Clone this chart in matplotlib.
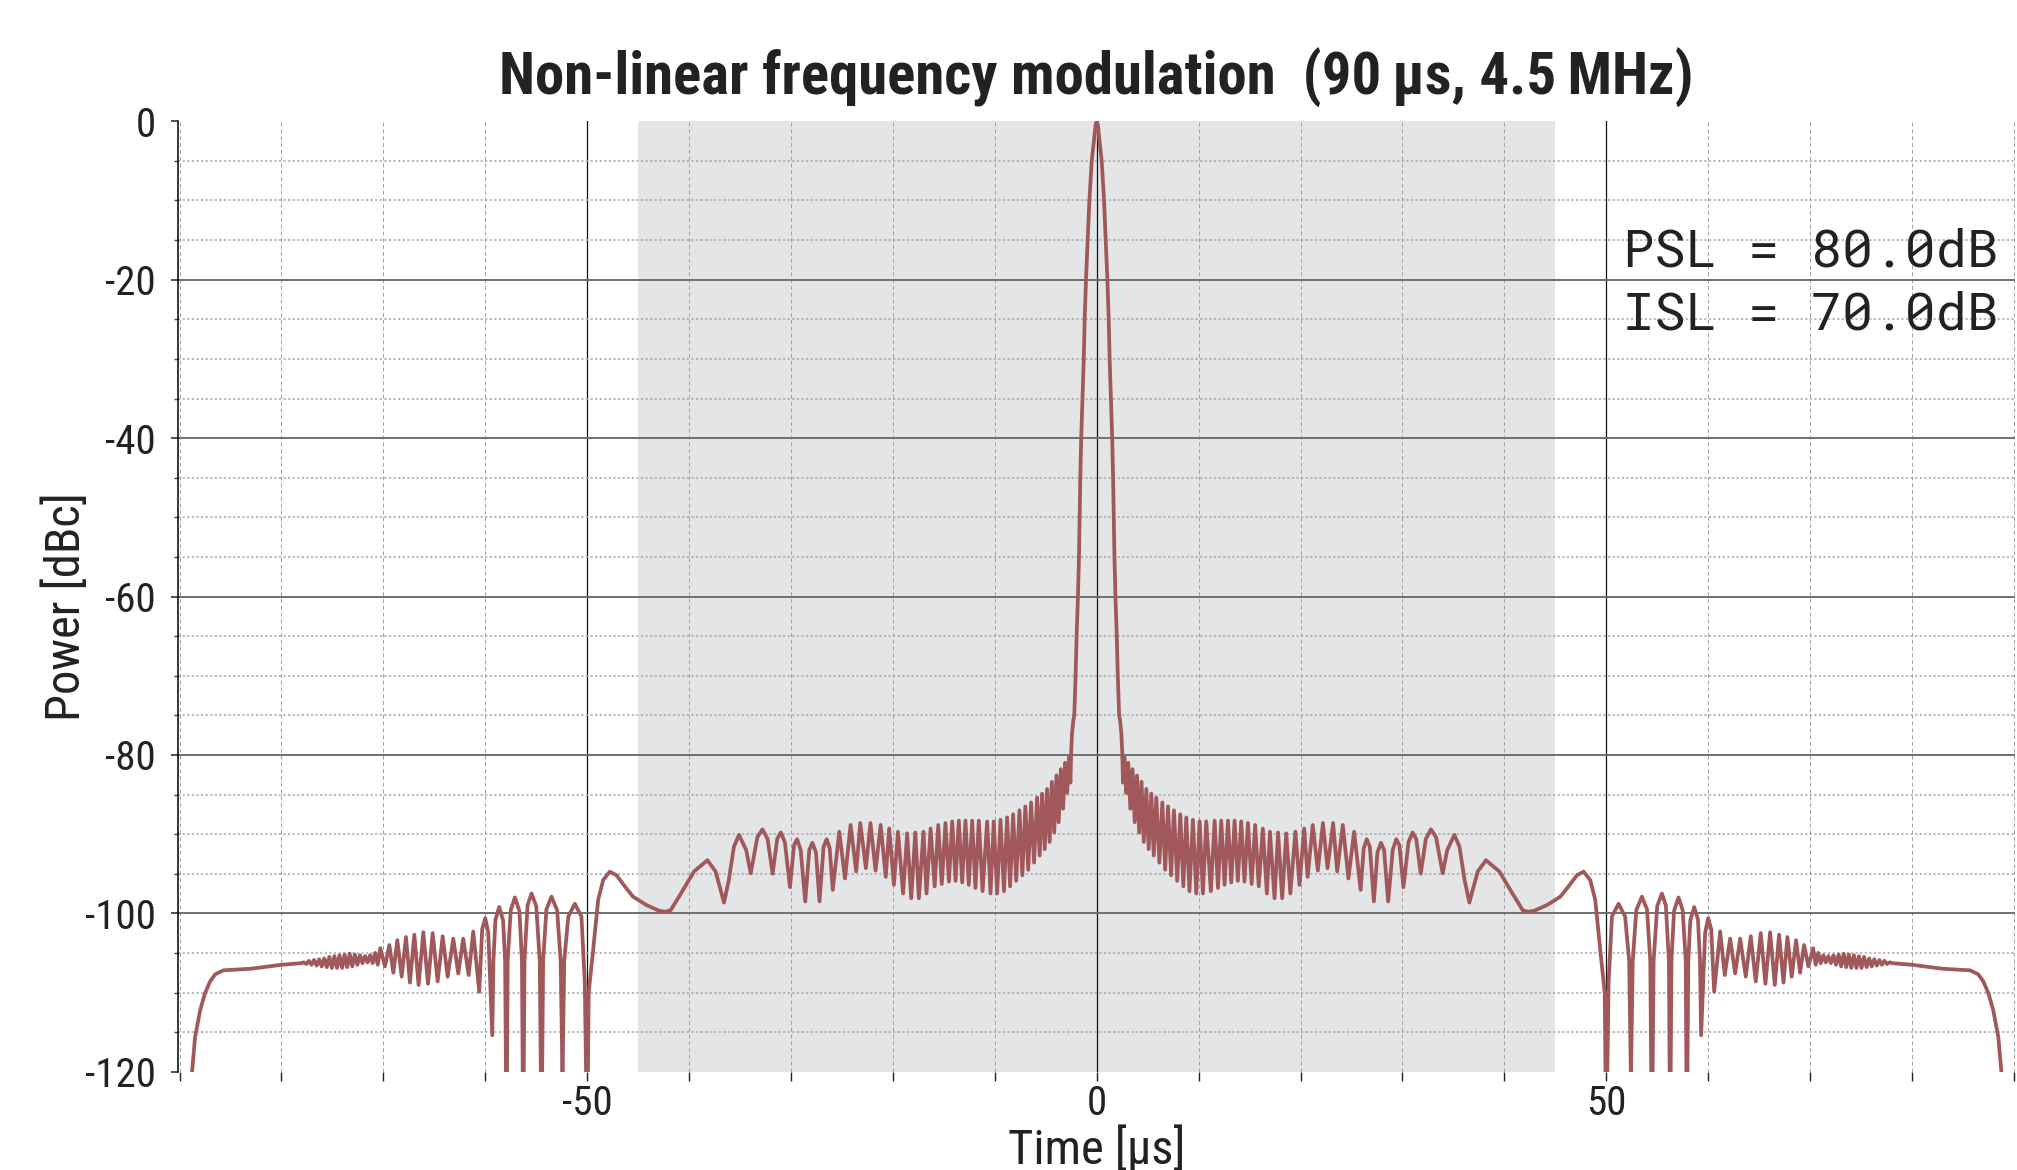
import matplotlib
matplotlib.use("Agg")
import matplotlib.pyplot as plt
from matplotlib import font_manager as fm
from matplotlib.ticker import MultipleLocator, FixedLocator

# ---------------- data (left half of a symmetric autocorrelation) ----------------
tail_t = [-90.0, -88.8, -88.47, -87.97, -87.5, -87.0, -86.5, -85.7, -83.0, -80.0, -78.1]
tail_p = [-140, -120.4, -115.6, -112.2, -110.1, -108.6, -107.7, -107.2, -107.0, -106.5, -106.3]

ripple_t = [-77.8, -77.55, -77.3, -77.05, -76.8, -76.55, -76.3, -76.05, -75.8, -75.55,
            -75.3, -75.05, -74.8, -74.55, -74.3, -74.05, -73.8, -73.55, -73.3, -73.05,
            -72.8, -72.55, -72.3, -72.05, -71.8, -71.55, -71.3, -71.05, -70.8, -70.55, -70.3]
ripple_p = [-106.2, -106.4, -106.0, -106.5, -105.9, -106.6, -105.8, -106.7, -105.7, -106.8,
            -105.5, -106.9, -105.4, -106.9, -105.3, -106.9, -105.2, -106.8, -105.1, -106.7,
            -105.2, -106.5, -105.3, -106.3, -105.4, -106.2, -105.3, -106.3, -105.0, -106.5, -104.4]

outer_t = [-69.84, -69.41, -69.02, -68.63, -68.2, -67.78, -67.39, -66.96, -66.54, -66.08,
           -65.62, -65.16, -64.67, -64.18, -63.69, -63.14, -62.65, -62.16, -61.63, -61.18,
           -60.59, -60.3, -60.0, -59.7, -59.31, -59.2, -59.0, -58.63, -58.25, -58.05,
           -57.91, -57.8, -57.5, -57.09, -56.65, -56.4, -56.27, -56.15, -55.85, -55.46,
           -55.0, -54.65, -54.48, -54.32, -54.0, -53.5, -52.95, -52.6, -52.42, -52.25,
           -51.85, -51.21, -50.56, -50.23, -50.0, -49.85, -49.41, -48.92, -48.43, -47.78,
           -47.12, -46.3, -45.5, -44.2, -42.9, -42.3, -41.8, -40.8, -39.5, -38.2,
           -37.4, -36.9, -36.57, -36.1, -35.6, -35.1, -34.4, -33.95]
outer_p = [-106.7, -104.0, -107.5, -103.4, -108.0, -103.0, -108.75, -102.7, -109.05, -102.4,
           -108.9, -102.5, -108.6, -102.9, -108.0, -103.2, -107.6, -103.2, -107.8, -102.3,
           -109.9, -102.0, -100.6, -102.5, -115.4, -106, -100.8, -99.2, -100.9, -106,
           -130, -106, -99.6, -98.0, -99.7, -106, -130, -106, -99.0, -97.5,
           -99.1, -106, -130, -106, -99.5, -97.9, -99.6, -106, -121, -106,
           -100.4, -98.8, -100.4, -108.8, -130, -110, -104.6, -98.3, -95.8, -94.74,
           -95.2, -96.6, -97.9, -98.95, -99.7, -99.8, -99.6, -97.5, -94.7, -93.3,
           -94.7, -97.05, -98.65, -95.8, -91.6, -90.1, -92.0, -94.95]

inner_t = [-33.3, -32.8, -32.3, -31.8, -31.35, -31.0, -30.6, -30.1, -29.7, -29.4,
           -29.05, -28.6, -28.2, -27.9, -27.55, -27.2, -26.8, -26.5, -26.2, -25.9,
           -25.26, -24.7, -24.15, -23.6, -23.2, -22.65, -22.2, -21.7, -21.2, -20.7,
           -20.36, -19.9, -19.5, -19.0, -18.6, -18.2, -17.8, -17.45, -17.0, -16.7,
           -16.3, -15.9, -15.55, -15.2, -14.84, -14.5, -14.18, -13.85, -13.53, -13.2,
           -12.88, -12.55, -12.22, -11.9, -11.57, -11.2, -10.75, -10.42, -10.1, -9.77,
           -9.44, -9.1, -8.79, -8.5, -8.2, -7.9, -7.58, -7.3, -7.0, -6.72,
           -6.44, -6.15, -5.85, -5.6, -5.36, -5.1, -4.87, -4.62, -4.4, -4.17,
           -3.95, -3.73, -3.52, -3.3, -3.1, -2.9, -2.72, -2.58]
inner_p = [-90.4, -89.4, -90.6, -95.0, -90.6, -89.8, -91.0, -96.7, -91.4, -90.65,
           -92.0, -98.5, -92.0, -91.1, -92.3, -98.5, -91.6, -90.65, -91.8, -97.05,
           -89.7, -95.6, -88.85, -94.7, -88.6, -94.3, -88.6, -94.6, -88.85, -95.4,
           -89.3, -96.4, -89.7, -97.5, -89.9, -98.1, -89.8, -98.1, -89.7, -97.5,
           -89.3, -96.6, -88.85, -96.3, -88.6, -96.0, -88.4, -95.9, -88.3, -96.1,
           -88.3, -96.4, -88.3, -96.8, -88.3, -97.2, -88.4, -97.5, -88.4, -97.5,
           -88.2, -97.2, -87.9, -96.6, -87.5, -95.9, -87.0, -95.2, -86.5, -94.5,
           -86.0, -93.6, -85.4, -92.7, -84.9, -91.9, -84.3, -91.0, -83.4, -89.8,
           -82.6, -88.5, -81.8, -86.8, -81.0, -84.8, -80.3, -83.5]

lobe_t = [-2.5, -2.42, -2.29, -2.2, -2.07, -1.97, -1.84, -1.74, -1.68, -1.61,
          -1.52, -1.40, -1.27, -1.18, -1.05, -0.88, -0.72, -0.49, -0.29, -0.12, 0.0]
lobe_p = [-79.5, -77.3, -75.6, -75.0, -70, -65, -60, -55, -50, -45,
          -40, -35, -30, -25, -20, -15, -10, -5, -2.7, -0.5, 0.0]

x_major = [-50, 0, 50]
window = (-45, 45)
title = "Non-linear frequency modulation  (90\u2009µs, 4.5\u2009MHz)"
metrics = ["PSL = 80.0dB", "ISL = 70.0dB"]

# assemble: left half + mirrored right half
left_t = tail_t + ripple_t + outer_t + inner_t + lobe_t
left_p = tail_p + ripple_p + outer_p + inner_p + lobe_p
assert len(left_t) == len(left_p)
t = left_t + [-v for v in reversed(left_t[:-1])]
p = left_p + list(reversed(left_p[:-1]))

# ---------------- fonts ----------------
installed = {f.name for f in fm.fontManager.ttflist}


def pick(*names):
    for n in names:
        if n in installed:
            return n
    return "DejaVu Sans"


COND = pick("Roboto Condensed", "Liberation Sans Narrow", "Roboto")
MONO = pick("Roboto Mono", "DejaVu Sans Mono", "Liberation Mono")
plt.rcParams["font.family"] = [COND, "DejaVu Sans"]
plt.rcParams["axes.unicode_minus"] = False

# ---------------- figure ----------------
W, H = 2017, 1170
fig = plt.figure(figsize=(W / 100, H / 100), dpi=100)
ax = fig.add_axes([178 / W, 98.3 / H, 1837.4 / W, 950.4 / H])

ax.axvspan(*window, color="#e4e5e7", lw=0, zorder=0)
ax.plot(t, p, color="#a0585a", lw=2.7, zorder=3)

ax.set_xlim(-90.15, 90.15)
ax.set_ylim(-120, 0)

ax.xaxis.set_major_locator(FixedLocator(x_major))
ax.xaxis.set_minor_locator(MultipleLocator(10))
ax.yaxis.set_major_locator(MultipleLocator(20))
ax.yaxis.set_minor_locator(MultipleLocator(5))

ax.set_axisbelow(True)
ax.grid(which="major", axis="y", color="#6f6f6f", lw=1.4, ls="-")
ax.grid(which="major", axis="x", color="#111111", lw=0.9, ls="-")
ax.grid(which="minor", axis="y", color="#a8a8a8", lw=1.1, ls=(0, (1.5, 1.5)))
ax.grid(which="minor", axis="x", color="#a0a0a0", lw=0.7, ls=(0, (4, 3)))
for gl, loc in zip(ax.get_ygridlines(), ax.get_yticks()):
    if loc >= 0 or loc <= -120:
        gl.set_visible(False)

for s in ("top", "right", "bottom"):
    ax.spines[s].set_visible(False)
ax.spines["left"].set_color("black")
ax.spines["left"].set_linewidth(1.1)

ax.tick_params(axis="y", which="major", length=5, width=1.1, pad=11, labelsize=29.5,
               color="#222222", labelcolor="#222222")
ax.tick_params(axis="y", which="minor", length=3, width=1.0, color="#444444")
ax.tick_params(axis="x", which="both", length=6.5, width=1.0, pad=2.5, labelsize=29.5,
               color="#222222", labelcolor="#222222")

ax.set_xlabel("Time [µs]", fontsize=35, color="#222222")
ax.xaxis.set_label_coords(0.5, -0.055)
ax.set_ylabel("Power [dBc]", fontsize=35, color="#222222")
ax.yaxis.set_label_coords(-0.048, 0.4895)

fig.text(1096 / W, 1 - 95 / H, title, ha="center", va="baseline", fontsize=42.3,
         fontweight="bold", color="#222222")

for i, s in enumerate(metrics):
    fig.text(1623 / W, 1 - (266.7 + 63.3 * i) / H, s, ha="left", va="baseline",
             fontsize=37.5, family=[MONO, "DejaVu Sans Mono"], color="#222222")

fig.savefig("out.png", dpi=100, facecolor="white")
